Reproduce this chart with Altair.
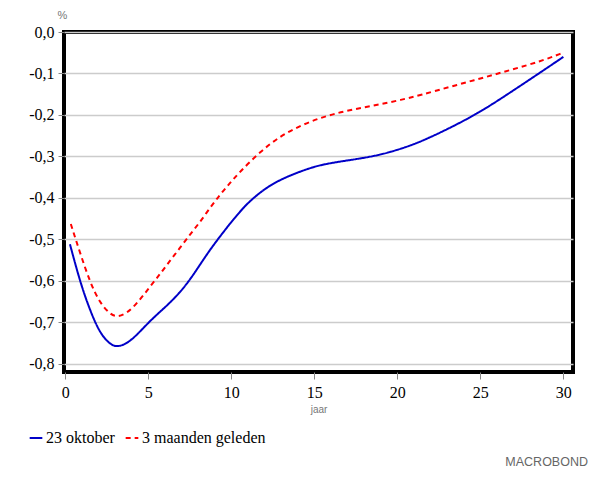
import altair as alt
import pandas as pd

series_names = ["23 oktober", "3 maanden geleden"]

blue_x = [0.28, 0.89, 1.49, 2.09, 2.69, 3.1, 3.7, 4.3, 5.1, 5.7, 6.3, 6.9, 7.5, 8.1, 8.7, 9.3,
          9.9, 10.2, 10.8, 11.4, 12.0, 12.6, 13.2, 13.8, 14.4, 15.0, 15.6, 16.6, 17.8, 19.0,
          20.2, 21.4, 23.2, 25.0, 26.8, 28.6, 30.0]
blue_y = [-0.512, -0.603, -0.672, -0.727, -0.753, -0.760, -0.752, -0.731, -0.697, -0.675,
          -0.653, -0.628, -0.598, -0.562, -0.526, -0.494, -0.463, -0.449, -0.420, -0.398,
          -0.379, -0.364, -0.352, -0.342, -0.333, -0.325, -0.319, -0.312, -0.305, -0.296,
          -0.282, -0.265, -0.231, -0.193, -0.146, -0.098, -0.060]

red_x = [0.33, 0.89, 1.49, 2.09, 2.69, 3.1, 3.7, 4.4, 5.1, 5.7, 6.3, 6.9, 7.5, 8.1, 8.7,
         9.3, 9.9, 10.5, 11.75, 12.95, 14.15, 15.35, 16.6, 17.8, 19.0, 20.2, 21.4, 23.2,
         25.0, 26.8, 28.6, 30.0]
red_y = [-0.463, -0.533, -0.604, -0.654, -0.680, -0.688, -0.679, -0.651, -0.614, -0.584,
         -0.552, -0.521, -0.489, -0.459, -0.425, -0.393, -0.365, -0.338, -0.288, -0.251,
         -0.226, -0.207, -0.193, -0.183, -0.174, -0.164, -0.152, -0.132, -0.112, -0.092,
         -0.071, -0.050]

x_ticks = [0, 5, 10, 15, 20, 25, 30]
y_ticks = [0.0, -0.1, -0.2, -0.3, -0.4, -0.5, -0.6, -0.7, -0.8]
brand = ["MACROBOND"]

df = pd.concat([
    pd.DataFrame({"jaar": blue_x, "val": blue_y, "serie": series_names[0]}),
    pd.DataFrame({"jaar": red_x, "val": red_y, "serie": series_names[1]}),
])

SERIF = "Times New Roman"

legend = alt.Legend(
    title=None, orient="none", legendX=-36, legendY=398, direction="horizontal",
    symbolType="stroke", symbolSize=160, symbolStrokeWidth=2,
    labelFont=SERIF, labelFontSize=16, labelColor="black",
    columnPadding=6, symbolOffset=0, labelOffset=2,
)

lines = alt.Chart(df).mark_line(strokeWidth=2, interpolate="basis").encode(
    x=alt.X("jaar:Q",
            scale=alt.Scale(domain=[-0.08, 30.58], nice=False, zero=False),
            axis=alt.Axis(values=x_ticks, title="jaar", grid=False, domain=False,
                          tickColor="#888", tickSize=7, labelPadding=5,
                          labelFont=SERIF, labelFontSize=16, labelColor="black",
                          titleFont="Liberation Sans", titleFontSize=10,
                          titleFontWeight="normal", titleColor="#777", titlePadding=4)),
    y=alt.Y("val:Q",
            scale=alt.Scale(domain=[-0.82, 0], nice=False, zero=False),
            axis=alt.Axis(values=y_ticks, title="%", grid=True, gridColor="#cccccc",
                          gridWidth=1.5, domain=False, tickColor="#888", tickSize=6,
                          labelPadding=4, labelFont=SERIF, labelFontSize=16,
                          labelColor="black",
                          labelExpr="replace(replace(format(datum.value, '.1f'), '.', ','), '\u2212', '-')",
                          titleAngle=0, titleX=-2, titleY=-12, titleAlign="center",
                          titleFont="Liberation Sans", titleFontSize=11,
                          titleFontWeight="normal", titleColor="#777")),
    color=alt.Color("serie:N", scale=alt.Scale(domain=series_names, range=["#0000c8", "#ff0000"]),
                    legend=legend),
    strokeDash=alt.StrokeDash("serie:N", scale=alt.Scale(domain=series_names, range=[[1, 0], [5, 4]]),
                              legend=legend),
)

brand_text = alt.Chart(pd.DataFrame({"t": brand})).mark_text(
    align="right", baseline="middle", font="Liberation Sans", fontSize=12.5,
    color="#666",
).encode(text="t:N", x=alt.value(524), y=alt.value(430))

chart = alt.layer(lines, brand_text).properties(
    width=509, height=340,
    autosize=alt.AutoSizeParams(type="none"),
    padding={"left": 56, "top": 24, "right": 35, "bottom": 107},
).configure_view(stroke="black", strokeWidth=4)

chart.save("out.html", embed_options={"renderer": "svg", "actions": False})
